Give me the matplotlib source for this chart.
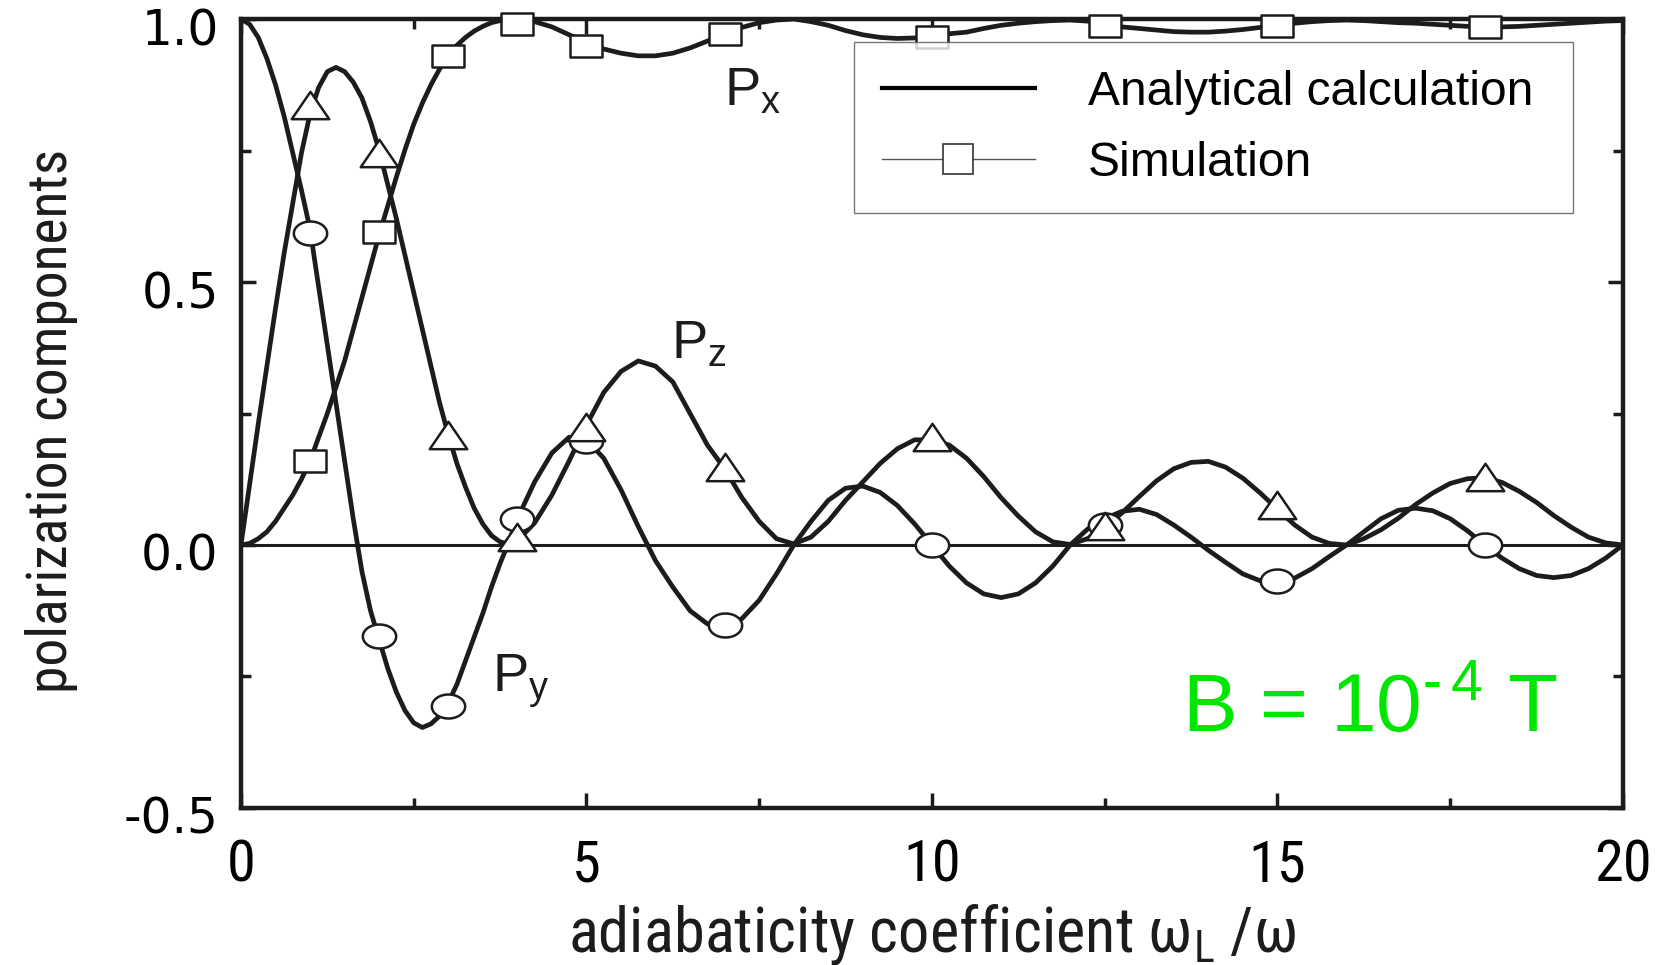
import numpy as np
import matplotlib
matplotlib.use("Agg")
import matplotlib.pyplot as plt
from matplotlib.path import Path
from matplotlib.lines import Line2D
from matplotlib import font_manager
from matplotlib.font_manager import FontProperties
from matplotlib.transforms import ScaledTranslation

# ---------------- data ----------------
x_curve_a = [i * 0.125 for i in range(33)]          # 0 .. 4
x_curve_b = [4.25 + i * 0.25 for i in range(64)]    # 4.25 .. 20
x_curve = x_curve_a + x_curve_b

px_curve = [0.000, 0.003, 0.012, 0.025, 0.045, 0.070, 0.095, 0.125, 0.160, 0.205,
            0.250, 0.300, 0.350, 0.410, 0.470, 0.530, 0.590, 0.645, 0.700, 0.752,
            0.800, 0.840, 0.875, 0.905, 0.930, 0.950, 0.965, 0.977, 0.986, 0.993,
            0.997, 0.999, 1.000,
            0.995, 0.985, 0.970,
            0.955, 0.943, 0.935, 0.930, 0.930, 0.935, 0.945, 0.958, 0.972, 0.984,
            0.993, 0.998, 1.000, 0.995, 0.988, 0.978, 0.970, 0.965, 0.963, 0.964,
            0.967, 0.972, 0.975, 0.982, 0.988, 0.992, 0.995, 0.997, 0.998, 0.996,
            0.990, 0.985, 0.982, 0.979, 0.976, 0.975, 0.975, 0.977, 0.980, 0.984,
            0.988, 0.992, 0.995, 0.997, 0.998, 0.997, 0.995, 0.993, 0.992, 0.990,
            0.988, 0.986, 0.985, 0.985, 0.986, 0.988, 0.990, 0.992, 0.994, 0.996,
            0.997]

py_curve = [1.000, 0.990, 0.965, 0.925, 0.875, 0.815, 0.745, 0.675, 0.600, 0.490,
            0.380, 0.270, 0.160, 0.050, -0.050, -0.125, -0.180, -0.235, -0.280, -0.315,
            -0.338, -0.347, -0.340, -0.325, -0.300, -0.265, -0.220, -0.175, -0.130, -0.080,
            -0.035, 0.005, 0.050,
            0.120, 0.175, 0.205,
            0.200, 0.165, 0.105, 0.035, -0.030, -0.080, -0.125, -0.150, -0.155, -0.140,
            -0.105, -0.055, 0.000, 0.045, 0.085, 0.108, 0.112, 0.100, 0.075, 0.040,
            0.000, -0.040, -0.072, -0.093, -0.100, -0.093, -0.072, -0.040, 0.000, 0.030,
            0.050, 0.064, 0.068, 0.058, 0.038, 0.015, -0.010, -0.033, -0.055, -0.068,
            -0.070, -0.063, -0.045, -0.022, 0.000, 0.025, 0.050, 0.066, 0.070, 0.065,
            0.050, 0.027, 0.000, -0.025, -0.045, -0.058, -0.062, -0.058, -0.045, -0.025,
            0.000]

pz_curve = [0.000, 0.115, 0.230, 0.340, 0.450, 0.555, 0.650, 0.745, 0.820, 0.870,
            0.900, 0.908, 0.900, 0.880, 0.850, 0.805, 0.750, 0.685, 0.620, 0.550,
            0.480, 0.410, 0.340, 0.270, 0.210, 0.155, 0.110, 0.070, 0.040, 0.018,
            0.006, 0.002, 0.008,
            0.042, 0.095, 0.160,
            0.228, 0.290, 0.330, 0.350, 0.340, 0.310, 0.250, 0.190, 0.145, 0.090,
            0.045, 0.012, 0.002, 0.015, 0.045, 0.085, 0.120, 0.155, 0.183, 0.200,
            0.200, 0.190, 0.165, 0.130, 0.090, 0.055, 0.025, 0.006, 0.001, 0.012,
            0.033, 0.061, 0.092, 0.122, 0.145, 0.157, 0.159, 0.148, 0.127, 0.099,
            0.068, 0.038, 0.015, 0.003, 0.000, 0.012, 0.029, 0.051, 0.077, 0.099,
            0.117, 0.126, 0.128, 0.119, 0.102, 0.081, 0.056, 0.034, 0.015, 0.004,
            0.000]

x_sim = [1, 2, 3, 4, 5, 7, 10, 12.5, 15, 18]
px_sim = [0.159, 0.596, 0.930, 0.990, 0.948, 0.972, 0.966, 0.986, 0.986, 0.984]
py_sim = [0.594, -0.173, -0.306, 0.050, 0.197, -0.153, 0.000, 0.038, -0.068, 0.000]
pz_sim = [0.837, 0.746, 0.210, 0.016, 0.225, 0.149, 0.205, 0.036, 0.076, 0.129]

x_ticks = [0, 5, 10, 15, 20]
y_ticks = [-0.5, 0.0, 0.5, 1.0]
y_ticklabels = ["-0.5", "0.0", "0.5", "1.0"]

# ---------------- fonts ----------------
def find_narrow():
    prefs = ["Liberation Sans Narrow", "Roboto Condensed", "DejaVu Sans Condensed",
             "Open Sans Condensed", "Noto Sans Condensed", "Arial Narrow"]
    fl = font_manager.fontManager.ttflist
    for p in prefs:
        for f in fl:
            if f.name == p and f.style == "normal" and str(f.weight) in ("400", "normal", "regular"):
                return FontProperties(fname=f.fname)
    for f in fl:
        st = str(f.stretch)
        if (("Narrow" in f.name or "Condensed" in f.name or "condensed" in st)
                and f.style == "normal" and "ultra" not in st and "extra" not in st
                and "Mono" not in f.name and "Serif" not in f.name
                and str(f.weight) in ("400", "normal", "regular")):
            return FontProperties(fname=f.fname)
    return FontProperties(family="Liberation Sans")

narrow_fp = find_narrow()
plt.rcParams["font.family"] = ["Liberation Sans", "DejaVu Sans"]
plt.rcParams["mathtext.fontset"] = "custom"
plt.rcParams["mathtext.rm"] = "Liberation Sans"

def nfp(size):
    fp = narrow_fp.copy()
    fp.set_size(size)
    return fp

# ---------------- marker shapes ----------------
t = np.linspace(0, 2 * np.pi, 60)
ellipse = Path(np.column_stack([np.cos(t), 0.72 * np.sin(t)]), closed=True)
rect = Path([(-1, -0.72), (1, -0.72), (1, 0.72), (-1, 0.72), (-1, -0.72)], closed=True)
tri = Path([(-1, -0.73), (1, -0.73), (0, 0.73), (-1, -0.73)], closed=True)

ink = "#1c1c1c"

fig = plt.figure(figsize=(16.63, 9.65), dpi=100)
ax = fig.add_axes([0.1449, 0.1627, 0.8310, 0.8176])

ax.axhline(0, color=ink, lw=2.2, zorder=2)
for yc in (px_curve, py_curve, pz_curve):
    ax.plot(x_curve, yc, color=ink, lw=3.4, zorder=3, solid_capstyle="round",
            solid_joinstyle="round")

mk = dict(color=ink, lw=0, mfc="white", mec=ink, mew=1.8, zorder=5, clip_on=False)
ax.plot(x_sim, px_sim, marker=rect, ms=23, **mk)
ax.plot(x_sim, py_sim, marker=ellipse, ms=24, **mk)
ax.plot(x_sim, pz_sim, marker=tri, ms=27, **mk)

ax.set_xlim(0, 20)
ax.set_ylim(-0.5, 1.0)
ax.set_xticks(x_ticks)
ax.set_xticks([2.5, 7.5, 12.5, 17.5], minor=True)
ax.set_yticks(y_ticks)
ax.set_yticklabels(y_ticklabels)
ax.set_yticks([-0.25, 0.25, 0.75], minor=True)
ax.tick_params(which="both", direction="in", top=True, right=True, width=2.5, color=ink)
ax.tick_params(which="major", length=11)
ax.tick_params(which="minor", length=7)
ax.tick_params(axis="x", pad=22)
ax.tick_params(axis="y", pad=16)
for lab in ax.get_xticklabels():
    lab.set_fontproperties(nfp(42))
shift_down = ScaledTranslation(0, -0.07, fig.dpi_scale_trans)
for lab in ax.get_yticklabels():
    lab.set_fontproperties(FontProperties(family="DejaVu Sans", size=35))
    lab.set_transform(lab.get_transform() + shift_down)

ax.set_xlabel("adiabaticity coefficient ω$_{\\mathregular{L}}$ /ω", fontproperties=nfp(45),
              color=ink, va="baseline")
ax.xaxis.set_label_coords(0.5, -0.182)
ax.set_ylabel("polarization components", fontproperties=nfp(40), color=ink)
ax.yaxis.set_label_coords(-0.118, 0.49)
for sp in ax.spines.values():
    sp.set_linewidth(3.2)
    sp.set_color(ink)
    sp.set_zorder(4)

# inline curve labels
ax.text(6.99, 0.835, "P$_{\\mathregular{x}}$", fontsize=39, color=ink, ha="left", va="baseline")
ax.text(6.22, 0.354, "P$_{\\mathregular{z}}$", fontsize=39, color=ink, ha="left", va="baseline")
ax.text(3.64, -0.280, "P$_{\\mathregular{y}}$", fontsize=39, color=ink, ha="left", va="baseline")

ax.text(13.62, -0.356, "B = 10$^{\\mathregular{\u2010}\\,\\mathregular{4}}$ T", fontsize=59,
        color="#00e600", ha="left", va="baseline")

# legend
h_ana = Line2D([], [], color="black", lw=3.0)
h_sim = Line2D([], [], color="#555555", lw=1.0, marker="s", ms=22, mfc="white",
               mec="#333333", mew=1.2)
leg = ax.legend([h_ana, h_sim], ["Analytical calculation", "Simulation"],
                loc="upper left", bbox_to_anchor=(0.4436, 0.971, 0.520, 0.0), mode="expand",
                borderaxespad=0, fontsize=34.5, frameon=True, fancybox=False,
                borderpad=0.58, handlelength=3.2, handletextpad=1.1, labelspacing=0.54)
leg.get_frame().set_edgecolor("#555555")
leg.get_frame().set_linewidth(1.0)
leg.set_zorder(6)

fig.savefig("out.png", dpi=100)
